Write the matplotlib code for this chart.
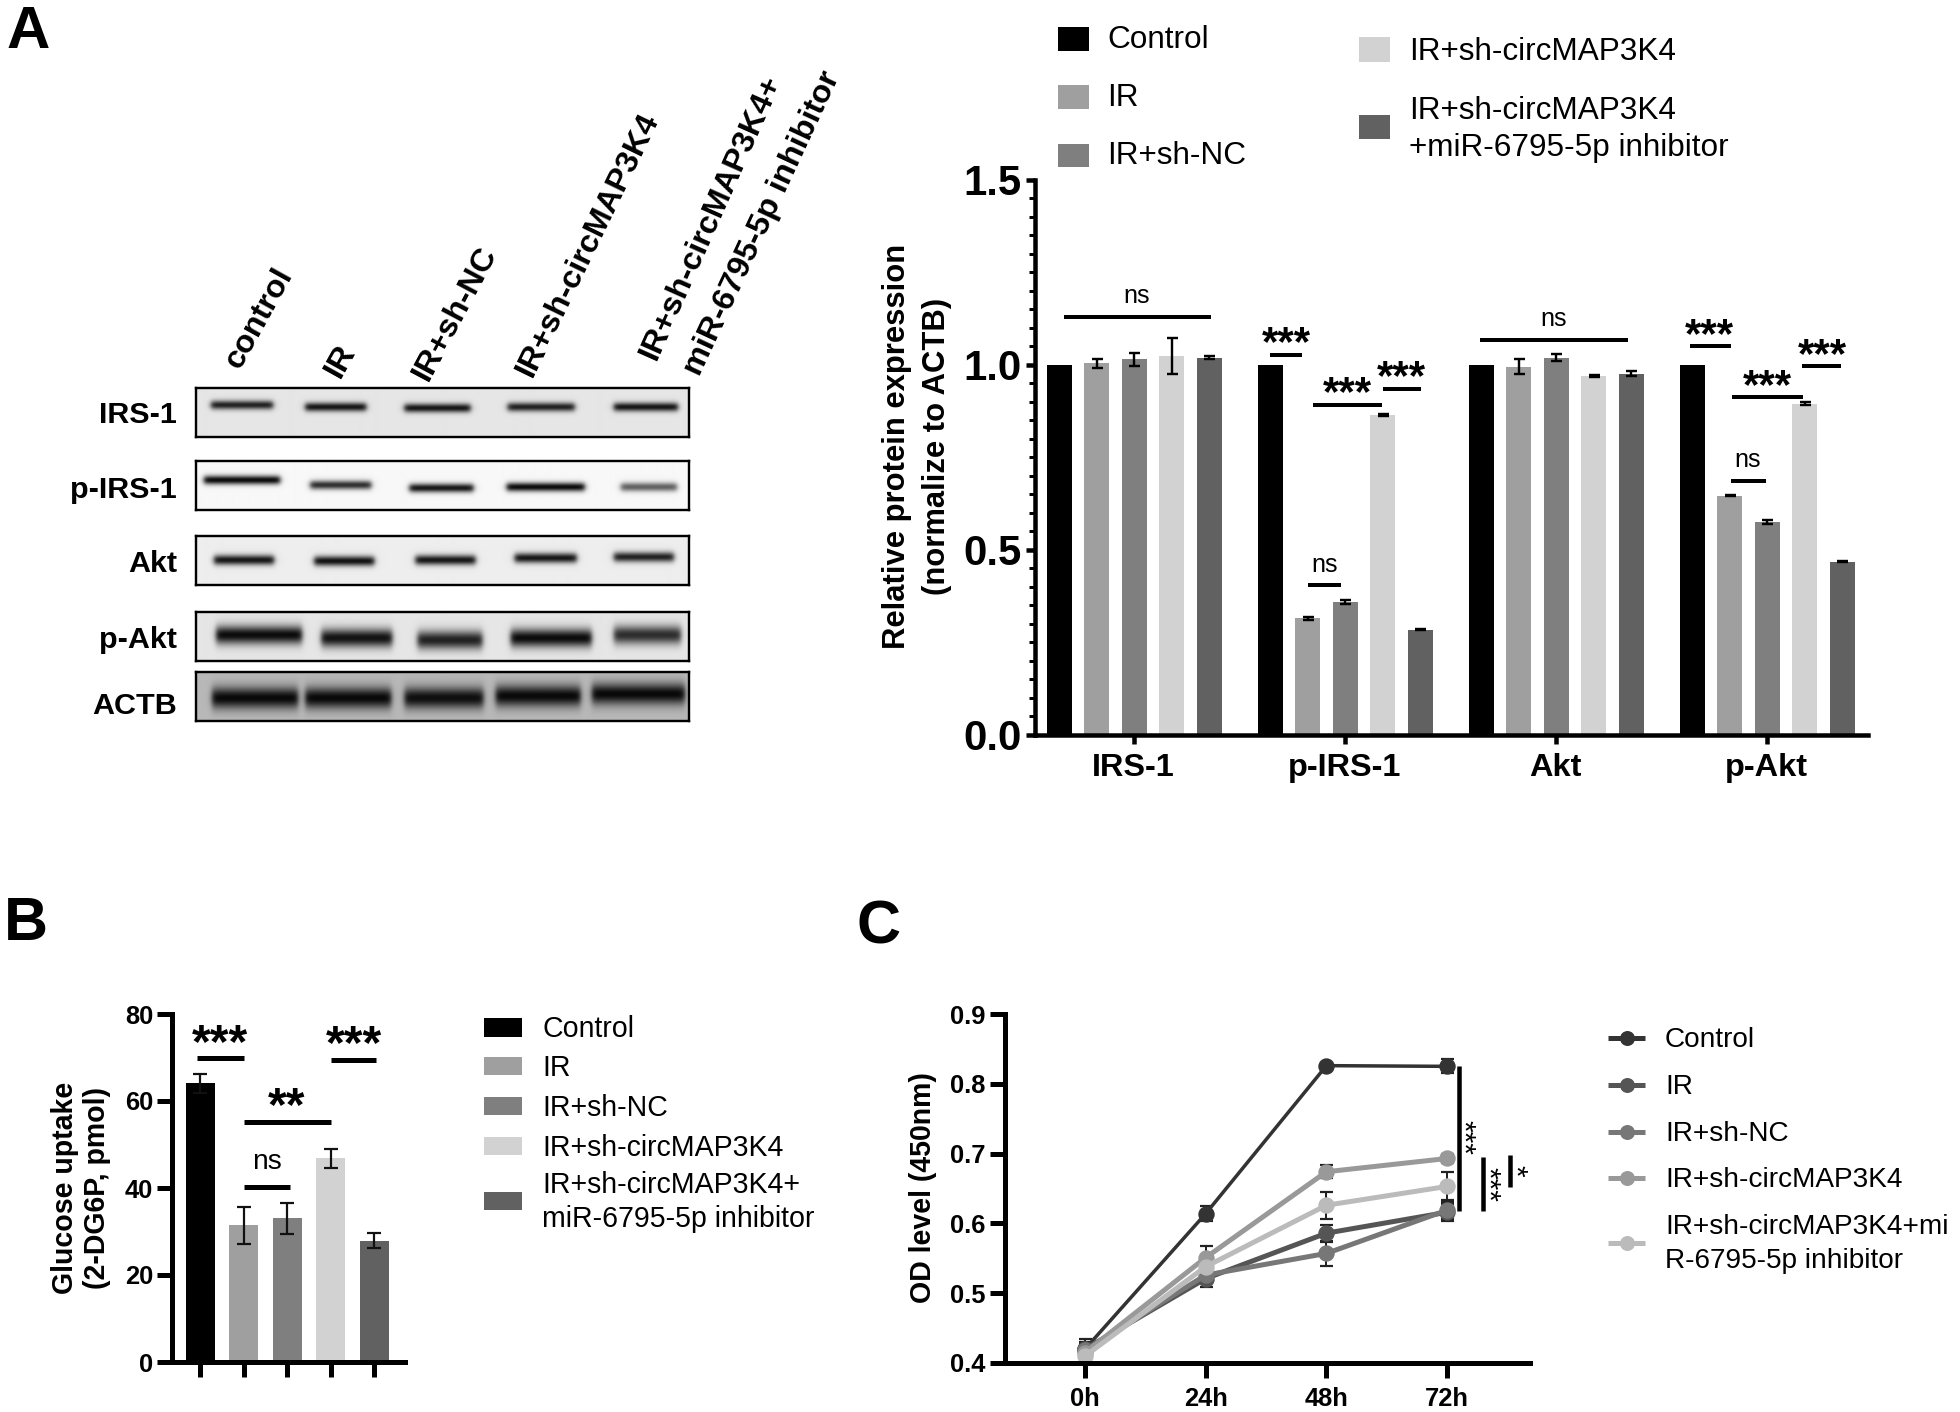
import numpy as np
import matplotlib
matplotlib.use("Agg")
import matplotlib.pyplot as plt
from matplotlib.patches import Rectangle
from matplotlib.ticker import MultipleLocator

plt.rcParams['font.family'] = ['Liberation Sans', 'DejaVu Sans']

W, H = 1960, 1412
PT = 0.72  # px -> pt at dpi 100

# ---------- data ----------
group_colors = ['#000000', '#9f9f9f', '#7f7f7f', '#d2d2d2', '#616161']

a_groups = ['IRS-1', 'p-IRS-1', 'Akt', 'p-Akt']
a_values = [[1.0, 1.005, 1.015, 1.025, 1.02],
            [1.0, 0.315, 0.36, 0.865, 0.285],
            [1.0, 0.995, 1.02, 0.97, 0.977],
            [1.0, 0.647, 0.575, 0.895, 0.468]]
a_errors = [[0, 0.012, 0.018, 0.048, 0.005],
            [0, 0.003, 0.006, 0.003, 0.002],
            [0, 0.02, 0.01, 0.003, 0.008],
            [0, 0.001, 0.005, 0.004, 0.001]]

b_values = [64.1, 31.4, 33.0, 46.8, 27.9]
b_errors = [2.2, 4.3, 3.6, 2.2, 1.7]

c_hours = [0, 24, 48, 72]
c_labels = ['0h', '24h', '48h', '72h']
c_control = [0.42, 0.614, 0.826, 0.825]
c_ir = [0.42, 0.521, 0.586, 0.616]
c_shnc = [0.418, 0.526, 0.557, 0.619]
c_circ = [0.415, 0.551, 0.674, 0.693]
c_inh = [0.41, 0.538, 0.626, 0.653]
c_control_err = [0.015, 0.011, 0.003, 0.01]
c_ir_err = [0.01, 0.012, 0.012, 0.012]
c_shnc_err = [0.01, 0.01, 0.018, 0.012]
c_circ_err = [0.01, 0.016, 0.009, 0.006]
c_inh_err = [0.012, 0.01, 0.019, 0.02]
c_colors = ['#333333', '#555555', '#777777', '#999999', '#bbbbbb']

# blot: label, label y, top, bottom, background grey, band thickness, bands (x0, x1, y, darkness)
blots = [
    ('IRS-1', 415, 388, 437, 0.90, 3.2, [(211, 273, 405, .85), (305, 366, 407, .9), (404, 470, 408, .9), (507, 574, 407, .85), (613, 677, 407, .9)]),
    ('p-IRS-1', 490, 461, 510, 0.97, 3.2, [(204, 280, 480, .95), (310, 371, 485, .8), (409, 473, 488, .9), (506, 584, 487, .95), (620, 676, 487, .6)]),
    ('Akt', 564, 536, 585, 0.93, 3.6, [(214, 274, 560, .9), (314, 374, 561, .92), (415, 475, 560, .9), (514, 576, 558, .9), (613, 673, 557, .85)]),
    ('p-Akt', 640, 612, 661, 0.90, 6.5, [(216, 302, 635, .95), (321, 392, 638, .92), (417, 482, 640, .85), (510, 591, 638, .95), (613, 680, 635, .8)]),
    ('ACTB', 706, 672, 721, 0.72, 7.5, [(212, 298, 698, .95), (305, 391, 698, .95), (404, 483, 698, .92), (495, 580, 696, .95), (591, 684, 694, .95)]),
]
lane_labels = ['control', 'IR', 'IR+sh-NC', 'IR+sh-circMAP3K4', 'IR+sh-circMAP3K4+', 'miR-6795-5p inhibitor']

fig = plt.figure(figsize=(W / 100, H / 100), dpi=100, facecolor='white')


def ax_px(l, t, r, b, **kw):
    return fig.add_axes([l / W, 1 - b / H, (r - l) / W, (b - t) / H], **kw)


ov = fig.add_axes([0, 0, 1, 1], zorder=10)
ov.set_xlim(0, W)
ov.set_ylim(H, 0)
ov.axis('off')
ov.patch.set_alpha(0)


def txt(x, y, s, px, **kw):
    kw.setdefault('ha', 'center')
    kw.setdefault('va', 'center')
    ov.text(x, y, s, fontsize=px * PT, **kw)


def sig(x0, x1, y, lw=4):
    ov.plot([x0, x1], [y, y], color='k', lw=lw * PT, solid_capstyle='butt')


def stars(x, y, s, px):
    # y is the visual centre of the asterisk glyphs
    ov.text(x, y + 0.48 * px, s, fontsize=px * PT, fontweight='bold', ha='center', va='baseline')


def legend_patch(x0, x1, y0, y1, c):
    ov.add_patch(Rectangle((x0, y0), x1 - x0, y1 - y0, fc=c, ec='none'))


def style_axes(ax, lw, ticklen):
    for s in ('top', 'right'):
        ax.spines[s].set_visible(False)
    for s in ('left', 'bottom'):
        ax.spines[s].set_linewidth(lw * PT)
    ax.tick_params(width=lw * PT, length=ticklen * PT)
    ax.patch.set_alpha(0)


# ---------- panel letters ----------
txt(28, 33, 'A', 60, fontweight='bold')
txt(26, 925, 'B', 61, fontweight='bold')
txt(879, 928, 'C', 61, fontweight='bold')

# ---------- western blots ----------
for label, ly, top, bottom, bg, thick, bands in blots:
    ax = ax_px(196, top, 689, bottom)
    xs = np.arange(196, 689) + 0.5
    ys = np.arange(top, bottom) + 0.5
    img = np.full((len(ys), len(xs)), float(bg))
    for x0, x1, yc, dark in bands:
        edge = 6.0
        wx = 0.25 * (1 + np.tanh((xs - x0) / edge * 2)) * (1 + np.tanh((x1 - xs) / edge * 2))
        wy = np.exp(-0.5 * ((ys - yc) / thick) ** 2)
        img -= np.outer(wy, wx) * dark * bg
    ax.imshow(np.clip(img, 0, 1), cmap='gray', vmin=0, vmax=1, aspect='auto',
              extent=(196, 689, bottom, top), interpolation='bilinear')
    ax.set_xticks([])
    ax.set_yticks([])
    for s in ax.spines.values():
        s.set_linewidth(2.4 * PT)
    txt(177, ly, label, 30.5, ha='right', fontweight='bold')

lane_pos = [(259, 318, 61), (341, 361, 61), (455, 313, 62), (588, 245, 64), (711, 217, 66), (762, 223, 65)]
for s, (x, y, r) in zip(lane_labels, lane_pos):
    ov.text(x, y, s, fontsize=32.5 * PT, fontweight='bold', rotation=r, rotation_mode='anchor',
            ha='center', va='center')

# ---------- panel A chart ----------
a_step = 37.4
a_gap = 211 / a_step
axA = ax_px(1035, 180, 1868, 735)
axA.set_xlim(0, (1868 - 1035) / a_step)
axA.set_ylim(0, 1.5)
x0A = (1059.5 - 1035) / a_step
centers = []
for g, (vals, errs) in enumerate(zip(a_values, a_errors)):
    xs = x0A + g * a_gap + np.arange(5)
    axA.bar(xs, vals, width=25 / a_step, color=group_colors, linewidth=0)
    axA.errorbar(xs[1:], vals[1:], yerr=errs[1:], fmt='none', ecolor='k', elinewidth=2.4 * PT,
                 capsize=5.5 * PT, capthick=2.4 * PT)
    centers.append(xs[2] - 0.02)
style_axes(axA, 4.5, 9)
axA.set_xticks(centers, a_groups)
axA.set_yticks([0, 0.5, 1.0, 1.5], ['0.0', '0.5', '1.0', '1.5'])
axA.yaxis.set_minor_locator(MultipleLocator(0.05))
axA.tick_params(axis='y', which='minor', width=3 * PT, length=6 * PT)
axA.tick_params(axis='y', labelsize=42 * PT, pad=4 * PT)
axA.tick_params(axis='x', labelsize=32.5 * PT, pad=9 * PT)
for t in axA.get_xticklabels() + axA.get_yticklabels():
    t.set_fontweight('bold')
axA.set_ylabel('Relative protein expression\n(normalize to ACTB)', fontsize=31 * PT, fontweight='bold',
               va='center', linespacing=1.45)
axA.yaxis.set_label_coords(917, 446, transform=ov.transData)

for x0, x1, y in [(1064, 1211, 317), (1270, 1302, 355), (1308, 1341, 585), (1313, 1382, 405),
                  (1383, 1421, 389), (1480, 1628, 340), (1690, 1731, 346), (1731, 1766, 481),
                  (1732, 1803, 397), (1802, 1841, 366)]:
    sig(x0, x1, y)
for x, y in [(1137, 296), (1325, 565), (1554, 319), (1748, 460)]:
    txt(x, y, 'ns', 25)
for x, y in [(1286, 335), (1347, 385), (1401, 369), (1709, 327), (1767, 378), (1822, 347)]:
    stars(x, y, '***', 42)

for (y0, y1), c, s in zip([(27, 51), (85, 109), (144, 167)], group_colors[:3], ['Control', 'IR', 'IR+sh-NC']):
    legend_patch(1058, 1089, y0, y1, c)
    txt(1107, (y0 + y1) / 2 + 1, s, 31.5, ha='left')
legend_patch(1359, 1390, 37, 62, group_colors[3])
txt(1409, 52.5, 'IR+sh-circMAP3K4', 31.5, ha='left')
legend_patch(1359, 1390, 115, 139, group_colors[4])
txt(1409, 111, 'IR+sh-circMAP3K4', 31.5, ha='left')
txt(1409, 148, '+miR-6795-5p inhibitor', 31.5, ha='left')

# ---------- panel B ----------
b_step = 43.5
axB = ax_px(172, 1014, 405, 1362)
axB.set_xlim(0, (405 - 172) / b_step)
axB.set_ylim(0, 80)
xb = (200 - 172) / b_step + np.arange(5)
axB.bar(xb, b_values, width=29 / b_step, color=group_colors, linewidth=0)
axB.errorbar(xb, b_values, yerr=b_errors, fmt='none', ecolor='#111111', elinewidth=2.2 * PT,
             capsize=7 * PT, capthick=2.2 * PT)
style_axes(axB, 5, 15)
axB.set_xticks(xb, [''] * 5)
axB.set_yticks([0, 20, 40, 60, 80])
axB.tick_params(axis='y', labelsize=25.5 * PT, pad=4 * PT)
for t in axB.get_yticklabels():
    t.set_fontweight('bold')
axB.set_ylabel('Glucose uptake\n(2-DG6P, pmol)', fontsize=28.5 * PT, fontweight='bold', va='center', linespacing=1.2)
axB.yaxis.set_label_coords(81, 1188, transform=ov.transData)
for x0, x1, y in [(197, 244, 1058), (331, 376, 1060), (244, 331, 1122), (244, 290, 1187)]:
    sig(x0, x1, y, 5)
stars(220, 1034, '***', 48)
stars(354, 1035, '***', 48)
stars(287, 1097, '**', 48)
txt(267, 1162, 'ns', 28)

for (y0, y1), c in zip([(1018, 1037), (1057, 1075), (1097, 1115), (1137, 1155), (1192, 1210)], group_colors):
    legend_patch(484, 522, y0, y1, c)
for y, s in [(1029, 'Control'), (1068, 'IR'), (1108, 'IR+sh-NC'), (1148, 'IR+sh-circMAP3K4'),
             (1185, 'IR+sh-circMAP3K4+'), (1219, 'miR-6795-5p inhibitor')]:
    txt(542, y, s, 28.5, ha='left')

# ---------- panel C ----------
c_scale = 120.7 / 24
axC = ax_px(1005, 1014, 1530, 1363)
axC.set_xlim(-(1085 - 1005) / c_scale, (1530 - 1085) / c_scale)
axC.set_ylim(0.4, 0.9)
series = [(c_control, c_control_err), (c_ir, c_ir_err), (c_shnc, c_shnc_err), (c_circ, c_circ_err), (c_inh, c_inh_err)]
lws = [3.5, 5, 5, 5, 5]
for (v, e), c, lw in zip(series, c_colors, lws):
    axC.errorbar(c_hours, v, yerr=e, color=c, lw=lw * PT, marker='o', ms=15 * PT, mec=c,
                 ecolor='#222222', elinewidth=2 * PT, capsize=6.5 * PT, capthick=2.2 * PT, clip_on=False)
style_axes(axC, 5, 15)
axC.set_xticks(c_hours, c_labels)
axC.set_yticks([0.4, 0.5, 0.6, 0.7, 0.8, 0.9])
axC.tick_params(axis='both', labelsize=25.5 * PT, pad=5 * PT)
axC.tick_params(axis='x', pad=9 * PT)
for t in axC.get_xticklabels() + axC.get_yticklabels():
    t.set_fontweight('bold')
axC.set_ylabel('OD level (450nm)', fontsize=28.5 * PT, fontweight='bold', va='center')
axC.yaxis.set_label_coords(923, 1188, transform=ov.transData)

for x, y0, y1 in [(1459, 1066, 1211), (1483, 1157, 1211), (1510, 1155, 1187)]:
    ov.plot([x, x], [y0, y1], color='k', lw=4.5 * PT, solid_capstyle='butt')
ov.text(1463, 1137, '***', fontsize=30 * PT, rotation=-90, ha='center', va='center')
ov.text(1488, 1184, '***', fontsize=30 * PT, rotation=-90, ha='center', va='center')
ov.text(1515, 1171, '*', fontsize=30 * PT, rotation=-90, ha='center', va='center')

for y, c in zip([1038, 1085, 1132, 1178, 1243], c_colors):
    ov.plot([1608, 1645], [y, y], color=c, lw=5 * PT, solid_capstyle='butt')
    ov.plot([1626.5], [y], color=c, marker='o', ms=15 * PT, mew=0)
for y, s in [(1040, 'Control'), (1087, 'IR'), (1134, 'IR+sh-NC'), (1180, 'IR+sh-circMAP3K4'),
             (1227, 'IR+sh-circMAP3K4+mi'), (1261, 'R-6795-5p inhibitor')]:
    txt(1665, y, s, 28, ha='left')

fig.savefig('out.png', dpi=100, facecolor='white')
